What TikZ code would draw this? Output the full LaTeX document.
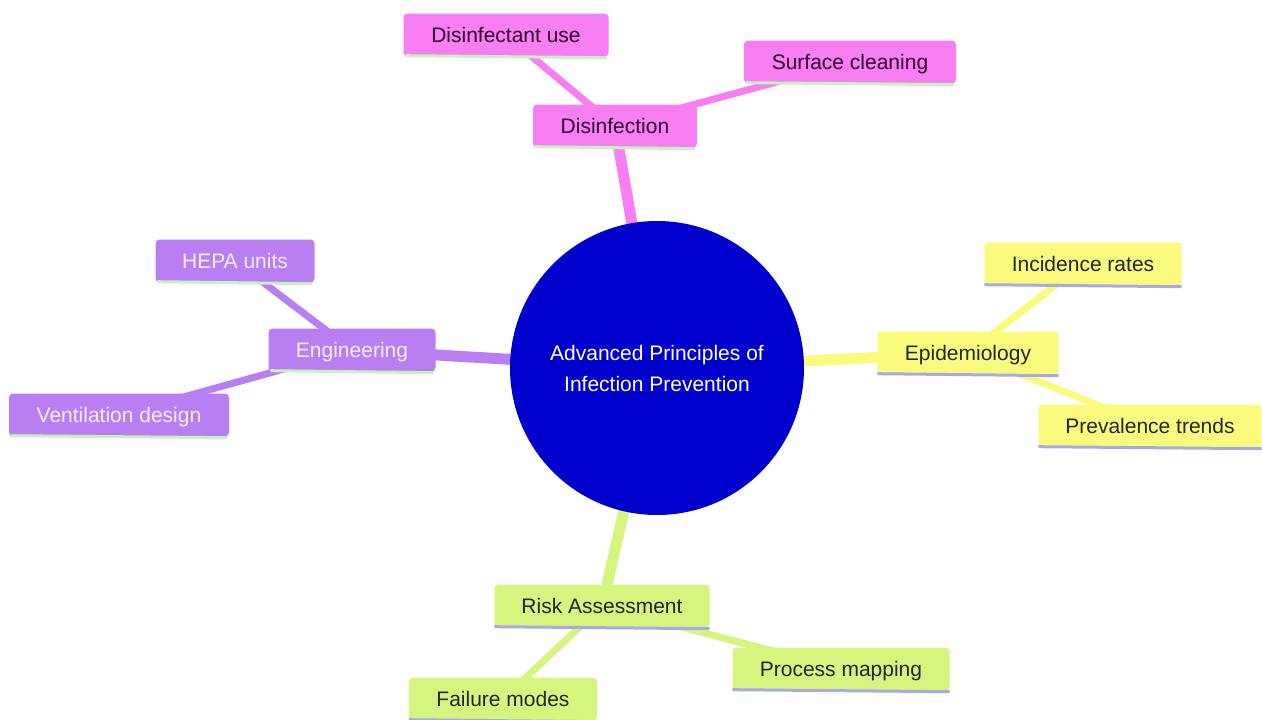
\documentclass[tikz,border=0pt]{standalone}
\usepackage{fontspec}
\setmainfont{Liberation Sans}
\usetikzlibrary{backgrounds}
\definecolor{pinkf}{HTML}{F77FF2}
\definecolor{purpf}{HTML}{B97FF2}
\definecolor{yelf}{HTML}{FAFA7C}
\definecolor{grnf}{HTML}{D5F57F}
\definecolor{ulgreen}{HTML}{C6F2C0}
\definecolor{ullav}{HTML}{A9A9E6}
\definecolor{rootc}{HTML}{0000CC}
\definecolor{pinktxt}{HTML}{330033}
\definecolor{purptxt}{HTML}{F5EEFF}
\begin{document}
\begin{tikzpicture}[x=1pt,y=-1pt,
  every node/.style={font=\fontsize{21}{31}\selectfont},
  mmbox/.style={rounded corners=4pt, inner xsep=0pt, inner ysep=0pt, minimum height=43pt, text height=17pt, text depth=3pt, align=center},
  pinkbox/.style={mmbox, fill=pinkf, text=pinktxt,
    append after command={(\tikzlastnode.south west) ++(2pt,1pt) edge[line width=3pt, ulgreen] ([xshift=-2pt,yshift=-1pt]\tikzlastnode.south east)}},
  purpbox/.style={mmbox, fill=purpf, text=purptxt,
    append after command={(\tikzlastnode.south west) ++(2pt,1pt) edge[line width=3pt, ulgreen] ([xshift=-2pt,yshift=-1pt]\tikzlastnode.south east)}},
  yelbox/.style={mmbox, fill=yelf, text=black!85,
    append after command={(\tikzlastnode.south west) ++(0pt,1pt) edge[line width=3pt, ullav] ([yshift=-1pt]\tikzlastnode.south east)}},
  grnbox/.style={mmbox, fill=grnf, text=black!85,
    append after command={(\tikzlastnode.south west) ++(0pt,1pt) edge[line width=3pt, ullav] ([yshift=-1pt]\tikzlastnode.south east)}},
  mainedge/.style={line width=11pt},
  subedge/.style={line width=7pt}
]
\useasboundingbox (0,0) rectangle (1262,720);

\node[circle, fill=rootc, text=white, minimum size=294pt, inner sep=0pt, align=center] (root) at (657,368) {Advanced Principles of\\Infection Prevention};

\node[pinkbox, minimum width=164pt] (dis) at (615,126) {Disinfection};
\node[pinkbox, minimum width=205pt] (disu) at (506,35) {Disinfectant use};
\node[pinkbox, minimum width=212pt] (surf) at (850,62) {Surface cleaning};

\node[yelbox, minimum width=181pt] (epi) at (968,353) {Epidemiology};
\node[yelbox, minimum width=197pt] (inc) at (1083,264) {Incidence rates};
\node[yelbox, minimum width=223pt] (prev) at (1150,426) {Prevalence trends};

\node[purpbox, minimum width=167pt] (eng) at (352,350) {Engineering};
\node[purpbox, minimum width=159pt] (hepa) at (235,261) {HEPA units};
\node[purpbox, minimum width=220pt] (vent) at (119,415) {Ventilation design};

\node[grnbox, minimum width=215pt] (risk) at (602,606) {Risk Assessment};
\node[grnbox, minimum width=217pt] (proc) at (841,669) {Process mapping};
\node[grnbox, minimum width=188pt] (fail) at (503,699) {Failure modes};

\begin{scope}[on background layer]
\fill[white] (0,0) rectangle (1262,720);
\draw[mainedge, pinkf] (root.center) -- (dis.center);
\draw[subedge, pinkf] (dis.center) -- (disu.center);
\draw[subedge, pinkf] (dis.center) -- (surf.center);
\draw[mainedge, yelf] (root.center) -- (epi.center);
\draw[subedge, yelf] (epi.center) -- (inc.center);
\draw[subedge, yelf] (epi.center) -- (prev.center);
\draw[mainedge, purpf] (root.center) -- (eng.center);
\draw[subedge, purpf] (eng.center) -- (hepa.center);
\draw[subedge, purpf] (eng.center) -- (vent.center);
\draw[mainedge, grnf] (root.center) -- (risk.center);
\draw[subedge, grnf] (risk.center) -- (proc.center);
\draw[subedge, grnf] (risk.center) -- (fail.center);
\end{scope}
\end{tikzpicture}
\end{document}
